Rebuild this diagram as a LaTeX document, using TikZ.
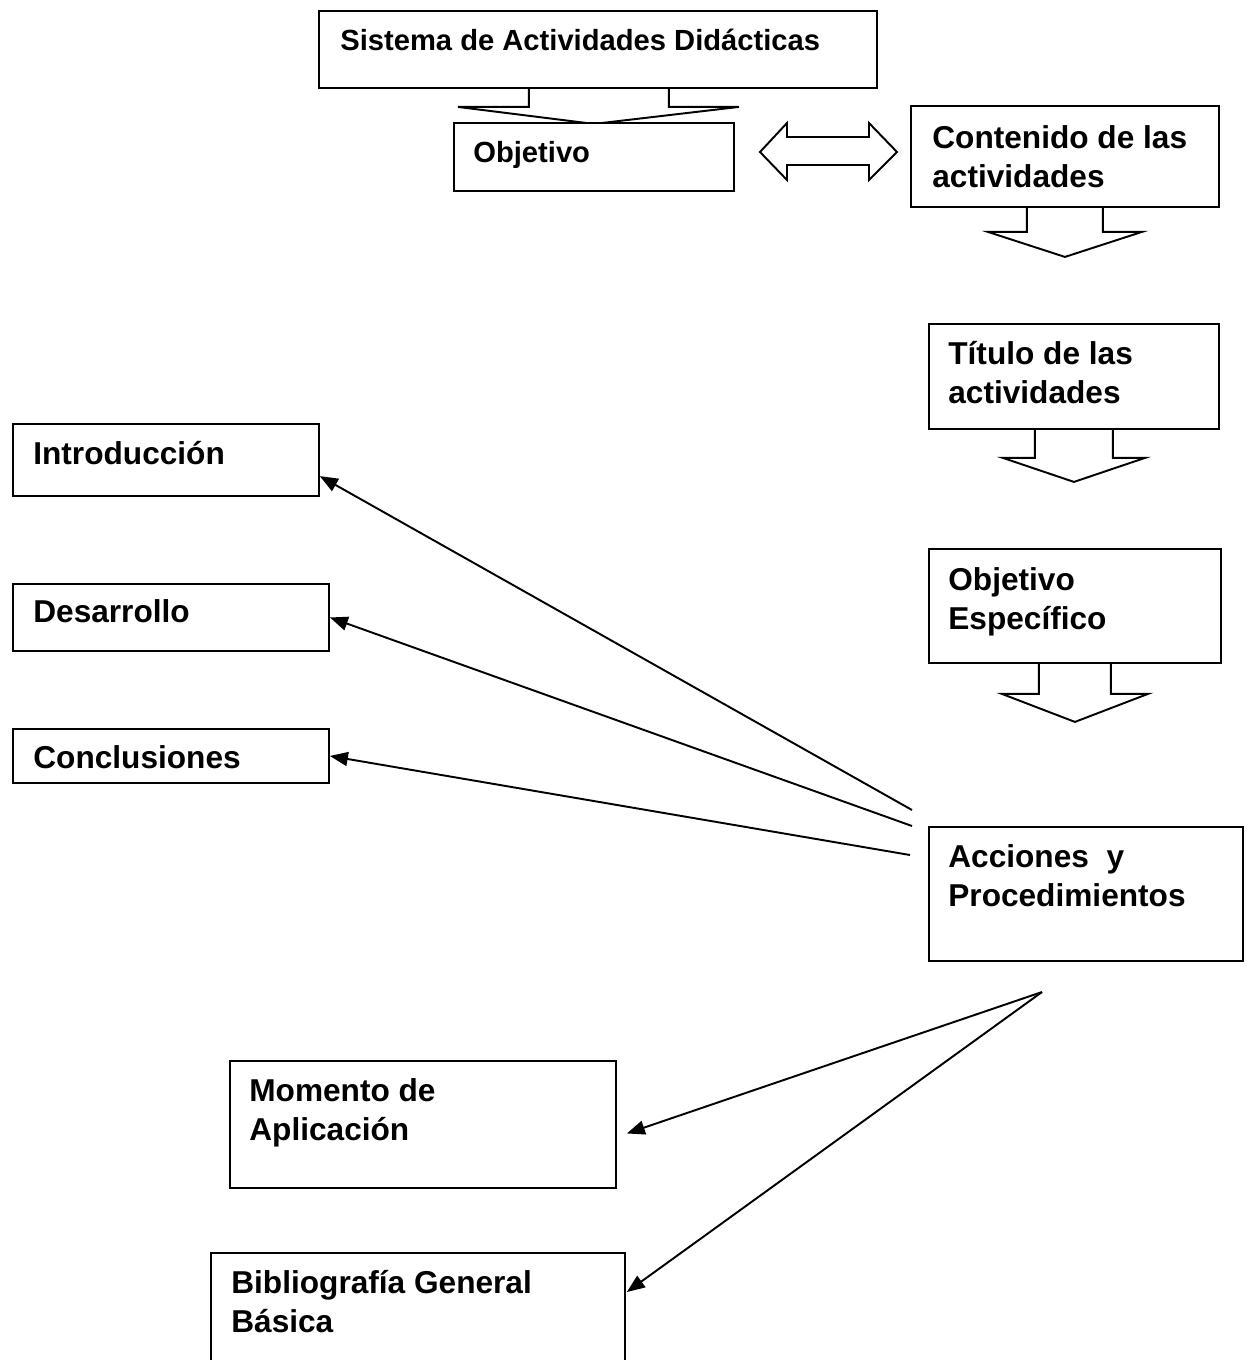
\documentclass[tikz,border=0pt]{standalone}
\usepackage{fontspec}
\setmainfont{Liberation Sans}
\usetikzlibrary{arrows.meta,calc}
\tikzset{
  caja/.style={draw, line width=1.1pt, fill=white, inner sep=0pt, anchor=north west},
  texto/.style={anchor=base west, inner sep=0pt, align=left, font=\bfseries\fontsize{18}{22.2}\selectfont},
  textochico/.style={texto, font=\bfseries\fontsize{16.6}{20}\selectfont},
  flecha/.style={line width=1.1pt, -{Triangle[length=0.36cm,width=0.28cm]}},
  bloque/.style={line width=1.1pt, line join=miter}
}
\begin{document}
\begin{tikzpicture}[x=0.02cm,y=-0.02cm]
\useasboundingbox (0,0) rectangle (1251,1360);
% Top part
\node[caja, minimum width=11.16cm, minimum height=1.54cm] (sistema) at (318,10) {};
\node[textochico] (tsistema) at (340,50) {Sistema de Actividades Didácticas};
\draw[bloque] (sistema.south) ++(-69,0) -- ++(0,18) -- ++(-71,0) -- ++(136,17) -- ++(145,-17) -- ++(-70,0) -- ++(0,-18);
\node[caja, minimum width=5.6cm, minimum height=1.36cm] (objetivo) at (453,122) {};
\node[textochico] (tobjetivo) at (473,162) {Objetivo};
\draw[bloque] (760,152) -- (787,123) -- (787,137) -- (869,137) -- (869,123) -- (897,152)
  -- (869,180) -- (869,165) -- (787,165) -- (787,180) -- cycle;
% Right column (two-line texts: base = last line)
\node[caja, minimum width=6.16cm, minimum height=2.02cm] (contenido) at (910,105) {};
\node[texto] (tcontenido) at (932,187) {Contenido de las\\actividades};
\draw[bloque] (contenido.south) ++(-38,0) -- ++(0,24) -- ++(-39,0) -- ++(77,25) -- ++(77,-25) -- ++(-39,0) -- ++(0,-24);
\node[caja, minimum width=5.8cm, minimum height=2.1cm] (titulo) at (928,323) {};
\node[texto] (ttitulo) at (948,403) {Título de las\\actividades};
\draw[bloque] (titulo.south) ++(-39,0) -- ++(0,28) -- ++(-32,0) -- ++(71,24) -- ++(71,-24) -- ++(-32,0) -- ++(0,-28);
\node[caja, minimum width=5.84cm, minimum height=2.28cm] (especifico) at (928,548) {};
\node[texto] (tespecifico) at (948,629) {Objetivo\\Específico};
\draw[bloque] (especifico.south) ++(-36,0) -- ++(0,30) -- ++(-37,0) -- ++(73,28) -- ++(73,-28) -- ++(-37,0) -- ++(0,-30);
\node[caja, minimum width=6.28cm, minimum height=2.68cm] (acciones) at (928,826) {};
\node[texto] (tacciones) at (948,906) {Acciones\ \ y\\Procedimientos};
% Left column
\node[caja, minimum width=6.12cm, minimum height=1.44cm] (intro) at (12,423) {};
\node[texto] (tintro) at (33,464) {Introducción};
\node[caja, minimum width=6.32cm, minimum height=1.34cm] (desarrollo) at (12,583) {};
\node[texto] (tdesarrollo) at (33,622) {Desarrollo};
\node[caja, minimum width=6.32cm, minimum height=1.08cm] (conclusiones) at (12,728) {};
\node[texto] (tconclusiones) at (33,768) {Conclusiones};
% Bottom
\node[caja, minimum width=7.72cm, minimum height=2.54cm] (momento) at (229,1060) {};
\node[texto] (tmomento) at (249,1140) {Momento de\\Aplicación};
\node[caja, minimum width=8.28cm, minimum height=2.26cm] (biblio) at (210,1252) {};
\node[texto] (tbiblio) at (231,1332) {Bibliografía General\\Básica};
% Connectors
\coordinate (a1) at (912,810);
\coordinate (a2) at (912,826);
\coordinate (a3) at (910,855);
\coordinate (a4) at (1042,992);
\draw[flecha] (a1) -- (intro.-6);
\draw[flecha] (a2) -- (desarrollo.east);
\draw[flecha] (a3) -- (conclusiones.east);
\draw[flecha] (a4) -- ($(momento.east)+(10,9)$);
\draw[flecha] (a4) -- ($(biblio.north east)+(1,40)$);
\end{tikzpicture}
\end{document}
